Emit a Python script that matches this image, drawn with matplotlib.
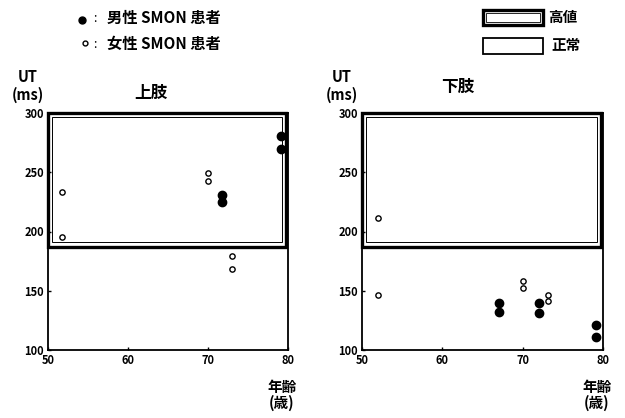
import matplotlib
matplotlib.use("Agg")
import matplotlib.pyplot as plt
from matplotlib.patches import Rectangle
from matplotlib.lines import Line2D

plt.rcParams['font.family'] = ['Noto Sans CJK JP', 'DejaVu Sans']

# 上肢: 年齢 / UT (ms)
upper_male_age = [71.7, 71.7, 79.1, 79.1]
upper_male_ut = [231, 225, 281, 270]
upper_female_age = [51.8, 51.8, 70.0, 70.0, 73.0, 73.0]
upper_female_ut = [233, 195, 249, 243, 179, 168]

# 下肢
lower_male_age = [67.0, 67.0, 72.0, 72.0, 79.1, 79.1]
lower_male_ut = [140, 132, 140, 131, 121, 111]
lower_female_age = [52.0, 52.0, 70.1, 70.1, 73.2, 73.2]
lower_female_ut = [211, 146, 158, 152, 146, 141]

# 高値 / 正常 の境界
threshold = 187
xticks = [50, 60, 70, 80]
yticks = [100, 150, 200, 250, 300]

W, H = 625, 418
fig = plt.figure(figsize=(W / 100, H / 100), dpi=100)


def fx(px):
    return px / W


def fy(py):
    return 1 - py / H


def panel(left_px, width_px, title, m_age, m_ut, f_age, f_ut, title_x, title_y):
    ax = fig.add_axes([fx(left_px), fy(350), width_px / W, 237 / H])
    ax.set_xlim(50, 80)
    ax.set_ylim(100, 300)
    for s in ax.spines.values():
        s.set_linewidth(1.3)
    ax.set_xticks(xticks)
    ax.set_yticks(yticks)
    ax.tick_params(direction='in', length=2, width=1, labelsize=8, pad=3)
    for lab in ax.get_xticklabels() + ax.get_yticklabels():
        lab.set_fontweight('bold')

    # 高値の範囲 (二重枠)
    ax.add_patch(Rectangle((50, threshold), 29.7, 300 - threshold, fill=False,
                           lw=2.4, ec='black', clip_on=False, zorder=2))
    ax.add_patch(Rectangle((50.45, threshold + 4), 28.8, 300 - threshold - 7.5,
                           fill=False, lw=0.7, ec='black', zorder=2))

    ax.plot(m_age, m_ut, 'o', color='black', ms=6, zorder=4)
    ax.plot(f_age, f_ut, 'o', mfc='white', mec='black', mew=1, ms=3.8, zorder=4)

    fig.text(fx(left_px - 20), fy(77), 'UT', ha='center', va='center',
             fontsize=10.5, fontweight='bold')
    fig.text(fx(left_px - 20), fy(95), '(ms)', ha='center', va='center',
             fontsize=10.5, fontweight='bold')
    fig.text(fx(title_x), fy(title_y), title, ha='center', va='center',
             fontsize=12, fontweight='bold')
    fig.text(fx(left_px + width_px - 6), fy(387), '年齢', ha='center', va='center',
             fontsize=10.5, fontweight='bold')
    fig.text(fx(left_px + width_px - 6), fy(403), '(歳)', ha='center', va='center',
             fontsize=10.5, fontweight='bold')
    return ax


panel(48, 240, '上肢', upper_male_age, upper_male_ut,
      upper_female_age, upper_female_ut, 151, 93)
panel(362, 241, '下肢', lower_male_age, lower_male_ut,
      lower_female_age, lower_female_ut, 458, 87)

# 凡例 (左上)
fig.add_artist(Line2D([fx(82)], [fy(20)], marker='o', color='black', ms=5,
                      transform=fig.transFigure))
fig.add_artist(Line2D([fx(85)], [fy(43)], marker='o', mfc='white', mec='black',
                      mew=1, ms=3.5, transform=fig.transFigure))
for py, label in [(18, '男性 SMON 患者'), (44, '女性 SMON 患者')]:
    fig.text(fx(95), fy(py), ':', ha='center', va='center', fontsize=9)
    fig.text(fx(107), fy(py), label, ha='left', va='center',
             fontsize=11, fontweight='bold')

# 凡例 (右上)
fig.add_artist(Rectangle((fx(483), fy(25)), 60 / W, 15 / H, fill=False,
                         lw=2.4, ec='black', transform=fig.transFigure))
fig.add_artist(Rectangle((fx(486), fy(22)), 54 / W, 9 / H, fill=False,
                         lw=0.6, ec='black', transform=fig.transFigure))
fig.add_artist(Rectangle((fx(483), fy(54)), 60 / W, 16 / H, fill=False,
                         lw=1.3, ec='black', transform=fig.transFigure))
fig.text(fx(548), fy(17), '高値', ha='left', va='center', fontsize=10.5, fontweight='bold')
fig.text(fx(551), fy(45), '正常', ha='left', va='center', fontsize=10.5, fontweight='bold')

fig.savefig('out.png', dpi=100, facecolor='white')
